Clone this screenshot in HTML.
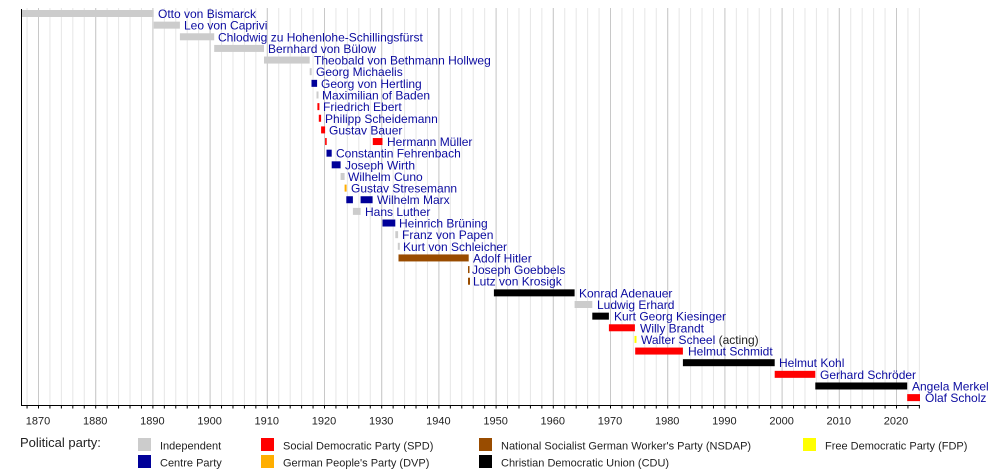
<!DOCTYPE html>
<html><head><meta charset="utf-8"><style>
html,body{margin:0;padding:0;background:#fff;}
svg{display:block;font-family:"Liberation Sans",sans-serif;}
.n{font-size:12px;fill:#0c0ca0;}
.t{font-size:11px;fill:#222;text-anchor:middle;}
.l{font-size:11px;fill:#222;}
</style></head><body>
<svg width="1000" height="476" viewBox="0 0 1000 476">
<defs>
<pattern id="minor" patternUnits="userSpaceOnUse" x="38" y="0" width="11.44" height="10"><line x1="0.5" y1="0" x2="0.5" y2="10" stroke="#e6e6e6" stroke-width="1"/></pattern>
<pattern id="major" patternUnits="userSpaceOnUse" x="38" y="0" width="57.2" height="10"><line x1="0.5" y1="0" x2="0.5" y2="10" stroke="#c8c8c8" stroke-width="1"/></pattern>
<pattern id="tk" patternUnits="userSpaceOnUse" x="38" y="0" width="11.44" height="10"><line x1="0.5" y1="0" x2="0.5" y2="10" stroke="#000" stroke-width="1"/></pattern>
</defs>
<rect x="21" y="8" width="899" height="398" fill="url(#minor)"/>
<rect x="21" y="8" width="899" height="398" fill="url(#major)"/>
<rect x="21" y="406" width="899" height="2.5" fill="url(#tk)"/>
<line x1="21.5" y1="9" x2="21.5" y2="406" stroke="#000"/>
<line x1="21" y1="405.5" x2="920" y2="405.5" stroke="#000"/>
<g class="t">
<text x="38" y="424.5">1870</text><text x="95.2" y="424.5">1880</text><text x="152.4" y="424.5">1890</text><text x="209.6" y="424.5">1900</text><text x="266.8" y="424.5">1910</text><text x="324" y="424.5">1920</text><text x="381.2" y="424.5">1930</text><text x="438.4" y="424.5">1940</text><text x="495.6" y="424.5">1950</text><text x="552.8" y="424.5">1960</text><text x="610" y="424.5">1970</text><text x="667.2" y="424.5">1980</text><text x="724.4" y="424.5">1990</text><text x="781.6" y="424.5">2000</text><text x="838.8" y="424.5">2010</text><text x="896" y="424.5">2020</text>
</g>
<g>
<rect x="22" y="10" width="131.7" height="7" fill="#ccc"/><text class="n" x="158" y="18">Otto von Bismarck</text>
<rect x="153.7" y="21.64" width="26.2" height="7" fill="#ccc"/><text class="n" x="184" y="29.6">Leo von Caprivi</text>
<rect x="179.9" y="33.28" width="34.3" height="7" fill="#ccc"/><text class="n" x="218" y="41.3">Chlodwig zu Hohenlohe-Schillingsfürst</text>
<rect x="214.2" y="44.92" width="49.8" height="7" fill="#ccc"/><text class="n" x="268" y="52.9">Bernhard von Bülow</text>
<rect x="264" y="56.56" width="45.7" height="7" fill="#ccc"/><text class="n" x="314" y="64.6">Theobald von Bethmann Hollweg</text>
<rect x="309.7" y="68.2" width="2" height="7" fill="#ccc"/><text class="n" x="316" y="76.2">Georg Michaelis</text>
<rect x="311.5" y="79.84" width="5.6" height="7" fill="#000099"/><text class="n" x="321" y="87.8">Georg von Hertling</text>
<rect x="316.5" y="91.48" width="2" height="7" fill="#ccc"/><text class="n" x="322" y="99.5">Maximilian of Baden</text>
<rect x="317.4" y="103.12" width="2" height="7" fill="#f00"/><text class="n" x="323" y="111.1">Friedrich Ebert</text>
<rect x="318.8" y="114.76" width="2.3" height="7" fill="#f00"/><text class="n" x="325" y="122.8">Philipp Scheidemann</text>
<rect x="321.1" y="126.4" width="4" height="7" fill="#f00"/><text class="n" x="329" y="134.4">Gustav Bauer</text>
<rect x="325.1" y="138.04" width="1.6" height="7" fill="#f00"/><rect x="372.8" y="138.04" width="9.7" height="7" fill="#f00"/><text class="n" x="387" y="146">Hermann Müller</text>
<rect x="326.5" y="149.68" width="5.2" height="7" fill="#000099"/><text class="n" x="336" y="157.7">Constantin Fehrenbach</text>
<rect x="331.7" y="161.32" width="8.9" height="7" fill="#000099"/><text class="n" x="345" y="169.3">Joseph Wirth</text>
<rect x="340.6" y="172.96" width="4" height="7" fill="#ccc"/><text class="n" x="348" y="181">Wilhelm Cuno</text>
<rect x="344.6" y="184.6" width="2" height="7" fill="#ffae00"/><text class="n" x="351" y="192.6">Gustav Stresemann</text>
<rect x="346.3" y="196.24" width="6.6" height="7" fill="#000099"/><rect x="360.6" y="196.24" width="12" height="7" fill="#000099"/><text class="n" x="377" y="204.2">Wilhelm Marx</text>
<rect x="352.9" y="207.88" width="7.7" height="7" fill="#ccc"/><text class="n" x="365" y="215.9">Hans Luther</text>
<rect x="382.5" y="219.52" width="12.8" height="7" fill="#000099"/><text class="n" x="399" y="227.5">Heinrich Brüning</text>
<rect x="395.3" y="231.16" width="2.8" height="7" fill="#ccc"/><text class="n" x="402" y="239.2">Franz von Papen</text>
<rect x="397.8" y="242.8" width="2" height="7" fill="#ccc"/><text class="n" x="403" y="250.8">Kurt von Schleicher</text>
<rect x="398.5" y="254.44" width="70.2" height="7" fill="#994c00"/><text class="n" x="473" y="262.4">Adolf Hitler</text>
<rect x="468" y="266.08" width="1.5" height="7" fill="#994c00"/><text class="n" x="472" y="274.1">Joseph Goebbels</text>
<rect x="468" y="277.72" width="2" height="7" fill="#994c00"/><text class="n" x="473" y="285.7">Lutz von Krosigk</text>
<rect x="493.9" y="289.36" width="80.7" height="7" fill="#000"/><text class="n" x="579" y="297.4">Konrad Adenauer</text>
<rect x="574.6" y="301" width="17.7" height="7" fill="#ccc"/><text class="n" x="597" y="309">Ludwig Erhard</text>
<rect x="592.3" y="312.64" width="16.6" height="7" fill="#000"/><text class="n" x="614" y="320.6">Kurt Georg Kiesinger</text>
<rect x="608.9" y="324.28" width="26" height="7" fill="#f00"/><text class="n" x="640" y="332.3">Willy Brandt</text>
<rect x="634.5" y="335.92" width="2" height="7" fill="#ff0"/><text class="n" x="641" y="343.9">Walter Scheel <tspan fill="#222">(acting)</tspan></text>
<rect x="635.2" y="347.56" width="47.7" height="7" fill="#f00"/><text class="n" x="688" y="355.6">Helmut Schmidt</text>
<rect x="682.9" y="359.2" width="91.8" height="7" fill="#000"/><text class="n" x="779" y="367.2">Helmut Kohl</text>
<rect x="774.7" y="370.84" width="40.6" height="7" fill="#f00"/><text class="n" x="820" y="378.8">Gerhard Schröder</text>
<rect x="815.3" y="382.48" width="91.9" height="7" fill="#000"/><text class="n" x="912" y="390.5">Angela Merkel</text>
<rect x="907.2" y="394.12" width="12.8" height="7" fill="#f00"/><text class="n" x="925" y="402.1">Olaf Scholz</text>
</g>
<text x="20" y="447" font-size="13" fill="#222">Political party:</text>
<rect x="138" y="438" width="13" height="13" fill="#ccc"/><text class="l" x="160" y="449.5">Independent</text>
<rect x="138" y="455" width="13" height="13" fill="#000099"/><text class="l" x="160" y="466.5">Centre Party</text>
<rect x="261" y="438" width="13" height="13" fill="#f00"/><text class="l" x="283" y="449.5">Social Democratic Party (SPD)</text>
<rect x="261" y="455" width="13" height="13" fill="#ffae00"/><text class="l" x="283" y="466.5">German People's Party (DVP)</text>
<rect x="479" y="438" width="13" height="13" fill="#994c00"/><text class="l" x="501" y="449.5">National Socialist German Worker's Party (NSDAP)</text>
<rect x="479" y="455" width="13" height="13" fill="#000"/><text class="l" x="501" y="466.5">Christian Democratic Union (CDU)</text>
<rect x="803" y="438" width="13" height="13" fill="#ff0"/><text class="l" x="825" y="449.5">Free Democratic Party (FDP)</text>
</svg>
</body></html>
